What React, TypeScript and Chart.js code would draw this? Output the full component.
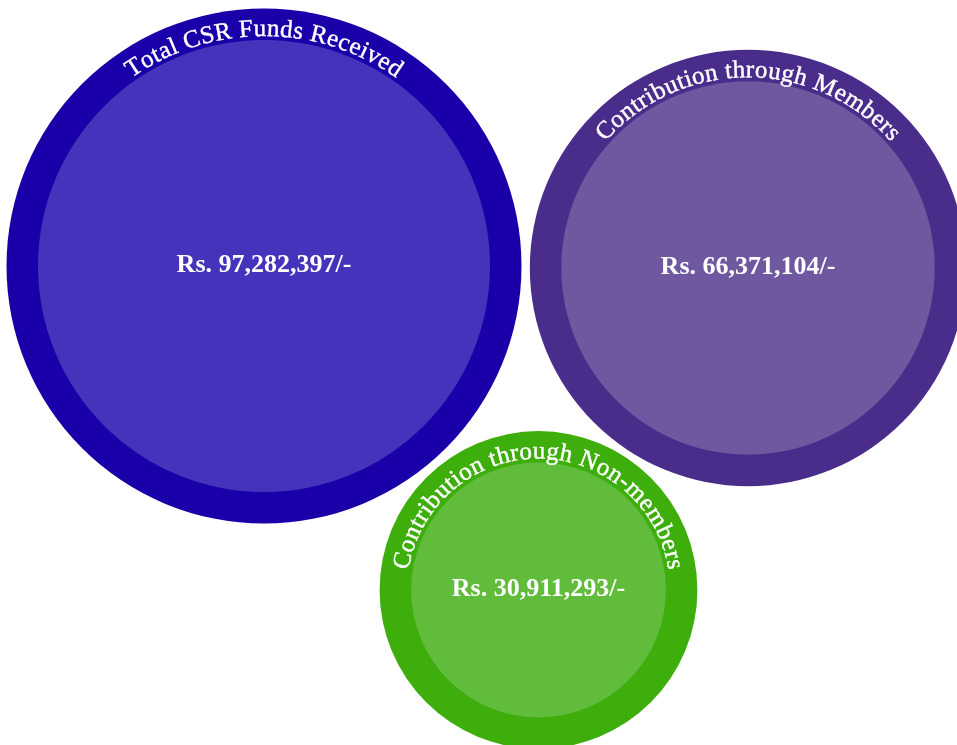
import React, { useEffect, useRef } from "react";
import { Chart, registerables } from "chart.js";

Chart.register(...registerables);

// ---- data ----
const categories: string[] = [
  "Total CSR Funds Received",
  "Contribution through Members",
  "Contribution through Non-members",
];
const amounts: number[] = [97282397, 66371104, 30911293];
// bubble centres (layout units on a 957 x 745 grid)
const posX: number[] = [264, 748, 538.5];
const posY: number[] = [266, 268, 590];

const outerColors: string[] = ["#1a00a8", "#4a2d8b", "#3eae0d"];
const innerColors: string[] = ["#4533bb", "#6f58a0", "#61bc3b"];

const W = 957;
const H = 745;
const RADIUS_K = 226 / Math.sqrt(97282397); // area ∝ value
const RING = 31.5;

const formatAmount = (v: number) => "Rs. " + v.toLocaleString("en-US") + "/-";

const labelPlugin = {
  id: "bubbleLabels",
  afterDatasetsDraw(chart: any) {
    const ctx: CanvasRenderingContext2D = chart.ctx;
    const meta = chart.getDatasetMeta(1);
    meta.data.forEach((el: any, i: number) => {
      const cx = el.x;
      const cy = el.y;
      const r = el.options.radius;
      ctx.save();
      ctx.fillStyle = "#ffffff";
      // centre value
      ctx.font = "bold 26px 'Liberation Serif', serif";
      ctx.textAlign = "center";
      ctx.textBaseline = "middle";
      ctx.fillText(formatAmount(amounts[i]), cx, cy - 1);
      // curved category text
      ctx.font = "25px 'Liberation Serif', serif";
      ctx.textBaseline = "alphabetic";
      ctx.lineWidth = 0.4;
      ctx.strokeStyle = "#ffffff";
      const R = r + 4;
      const spacing = 0.4;
      const chars = Array.from(categories[i]);
      const widths = chars.map((c) => ctx.measureText(c).width + spacing);
      const total = widths.reduce((a, b) => a + b, 0) - spacing;
      let acc = 0;
      const start = -Math.PI / 2 - total / (2 * R);
      chars.forEach((c, k) => {
        const w = widths[k] - spacing;
        const ang = start + (acc + w / 2) / R;
        ctx.save();
        ctx.translate(cx, cy);
        ctx.rotate(ang + Math.PI / 2);
        ctx.fillText(c, 0, -R);
        ctx.strokeText(c, 0, -R);
        ctx.restore();
        acc += widths[k];
      });
      ctx.restore();
    });
  },
};

export default function App() {
  const ref = useRef<HTMLCanvasElement | null>(null);
  useEffect(() => {
    if (!ref.current) return;
    const innerR = amounts.map((v) => Math.sqrt(v) * RADIUS_K);
    const chart = new Chart(ref.current, {
      type: "bubble",
      data: {
        labels: categories,
        datasets: [
          {
            label: "ring",
            data: amounts.map((_, i) => ({ x: posX[i], y: posY[i], r: innerR[i] + RING })),
            backgroundColor: outerColors,
            borderWidth: 0,
            clip: false,
            order: 2,
          } as any,
          {
            label: "fill",
            data: amounts.map((_, i) => ({ x: posX[i], y: posY[i], r: innerR[i] })),
            backgroundColor: innerColors,
            borderWidth: 0,
            clip: false,
            order: 1,
          } as any,
        ],
      },
      options: {
        responsive: false,
        animation: false,
        devicePixelRatio: 1,
        layout: { padding: 0, autoPadding: false },
        events: [],
        plugins: { legend: { display: false }, tooltip: { enabled: false } },
        scales: {
          x: { type: "linear", display: false, min: 0, max: W },
          y: { type: "linear", display: false, min: 0, max: H, reverse: true },
        },
      },
      plugins: [labelPlugin],
    });
    return () => chart.destroy();
  }, []);
  return (
    <div style={{ position: "absolute", left: 0, top: 0, width: W, height: H, overflow: "hidden" }}>
      <canvas ref={ref} width={W} height={H} style={{ display: "block" }} />
    </div>
  );
}
